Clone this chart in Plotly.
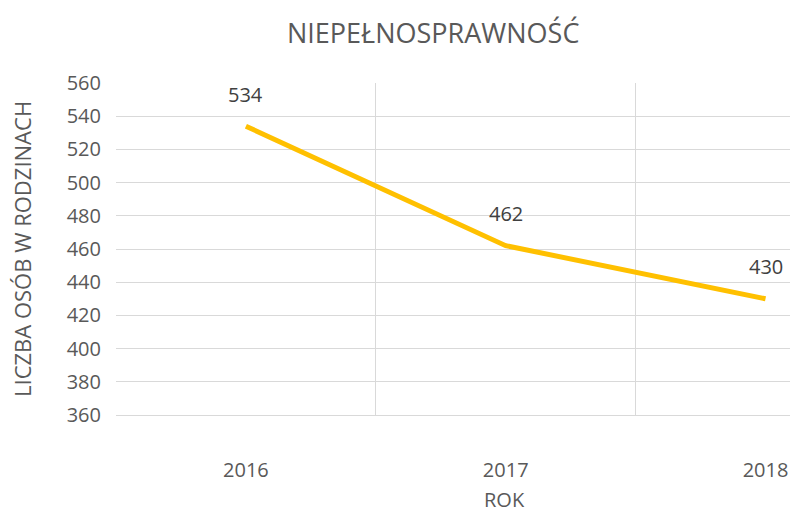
import plotly.graph_objects as go

years = ["2016", "2017", "2018"]
values = [534, 462, 430]
y_ticks = [360, 380, 400, 420, 440, 460, 480, 500, 520, 540, 560]

title_text = "NIEPEŁNOSPRAWNOŚĆ"
y_title = "LICZBA OSÓB W RODZINACH"
x_title = "ROK"

W, H = 790, 513
L, R, T, B = 116, 0, 83, 98
FONT = "Open Sans"
GRAY = "#595959"
GRID = "#D9D9D9"

idx = list(range(len(years)))

fig = go.Figure()
fig.add_trace(go.Scatter(
    x=idx, y=values, mode="lines",
    line=dict(color="#FFC000", width=5),
    hoverinfo="skip", showlegend=False,
))

for i, v in zip(idx, values):
    fig.add_annotation(x=i, y=v, text=str(v), showarrow=False,
                       yshift=32, xanchor="center", yanchor="middle",
                       font=dict(family=FONT, size=20, color="#404040"))

plot_w = W - L - R
plot_h = H - T - B

fig.add_annotation(text=title_text, xref="paper", yref="paper",
                   x=(433 - L) / plot_w, y=1 + (T - 33) / plot_h,
                   xanchor="center", yanchor="middle", showarrow=False,
                   font=dict(family=FONT, size=27, color=GRAY))
fig.add_annotation(text=y_title, xref="paper", yref="paper",
                   x=(22 - L) / plot_w, y=1 - (249 - T) / plot_h,
                   xanchor="center", yanchor="middle", textangle=-90,
                   showarrow=False,
                   font=dict(family=FONT, size=22, color=GRAY))
fig.add_annotation(text=x_title, xref="paper", yref="paper",
                   x=(504 - L) / plot_w, y=-(499 - (T + plot_h)) / plot_h,
                   xanchor="center", yanchor="middle", showarrow=False,
                   font=dict(family=FONT, size=20, color=GRAY))

fig.update_layout(
    width=W, height=H,
    margin=dict(l=L, r=R, t=T, b=B, pad=0),
    paper_bgcolor="white", plot_bgcolor="white",
    xaxis=dict(
        range=[-0.5, (W - 245.5) / 260],
        tickmode="array", tickvals=idx, ticktext=years,
        showgrid=False, zeroline=False,
        showline=True, linecolor=GRID, linewidth=1,
        ticks="outside", ticklen=37, tickcolor="rgba(0,0,0,0)",
        tickfont=dict(family=FONT, size=20, color=GRAY),
        minor=dict(tickmode="array", tickvals=[-0.5, 0.5, 1.5, 2.5],
                   showgrid=True, gridcolor=GRID, gridwidth=1, ticks=""),
        fixedrange=True,
    ),
    yaxis=dict(
        range=[360, 560],
        tickmode="array", tickvals=y_ticks,
        showgrid=True, gridcolor=GRID, gridwidth=1,
        zeroline=False, showline=False,
        ticks="outside", ticklen=10, tickcolor="rgba(0,0,0,0)",
        tickfont=dict(family=FONT, size=20, color=GRAY),
        fixedrange=True,
    ),
)

fig.write_html(
    "out.html",
    config={"displayModeBar": False},
    post_script="document.body.style.margin='0';document.body.style.overflow='hidden';",
)
